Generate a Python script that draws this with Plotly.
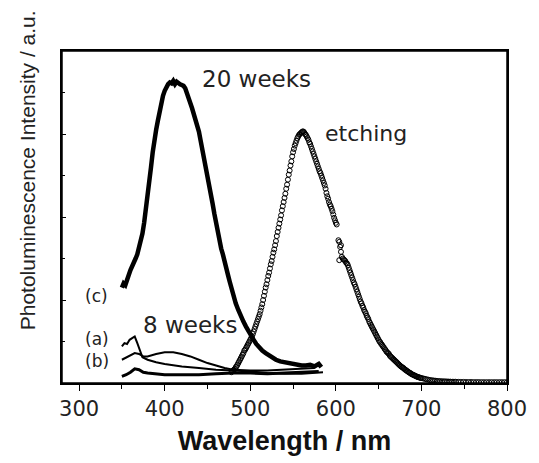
import plotly.graph_objects as go

# ---- data ----
weeks20_x = [350, 352, 354, 356, 358, 360, 362, 364, 366, 368, 370, 372, 374, 376, 378,
             380, 382, 384, 386, 388, 390, 392, 394, 396, 398, 400, 402, 404, 406, 408,
             410, 412, 414, 416, 418, 420, 422, 424, 426, 428, 430, 432, 434, 436, 438,
             440, 442, 444, 446, 448, 450, 452, 454, 456, 458, 460, 462, 464, 466, 468,
             470, 472, 474, 476, 478, 480, 483, 486, 489, 492, 495, 498, 501, 504, 507,
             510, 514, 518, 522, 526, 530, 535, 540, 545, 550, 555, 560, 565, 570, 575,
             580, 583]
weeks20_y = [1.15, 1.20, 1.18, 1.26, 1.30, 1.36, 1.40, 1.45, 1.50, 1.55, 1.62, 1.70, 1.80, 1.93, 2.08,
             2.25, 2.42, 2.60, 2.78, 2.95, 3.05, 3.16, 3.27, 3.38, 3.46, 3.52, 3.57, 3.60, 3.62, 3.61,
             3.64, 3.60, 3.63, 3.61, 3.60, 3.59, 3.58, 3.55, 3.50, 3.44, 3.37, 3.31, 3.25, 3.18, 3.10,
             3.03, 2.92, 2.82, 2.72, 2.60, 2.48, 2.37, 2.28, 2.16, 2.04, 1.92, 1.80, 1.70, 1.62, 1.55,
             1.48, 1.40, 1.30, 1.22, 1.13, 1.06, 0.96, 0.88, 0.80, 0.74, 0.68, 0.62, 0.57, 0.52, 0.47,
             0.43, 0.39, 0.36, 0.33, 0.30, 0.28, 0.26, 0.25, 0.23, 0.22, 0.22, 0.21, 0.21, 0.22, 0.20,
             0.23, 0.19]

a_x = [350, 353, 356, 359, 362, 365, 368, 371, 374, 380, 390, 400, 420, 440, 460, 480,
       500, 520, 540, 560, 585]
a_y = [0.44, 0.48, 0.47, 0.52, 0.54, 0.56, 0.48, 0.38, 0.31, 0.28, 0.25, 0.23, 0.20, 0.18, 0.16, 0.15,
       0.14, 0.12, 0.11, 0.11, 0.13]

b_x = [350, 355, 360, 365, 370, 375, 380, 390, 400, 410, 420, 430, 440, 450, 460, 470,
       480, 500, 520, 540, 560, 575]
b_y = [0.28, 0.31, 0.34, 0.36, 0.35, 0.32, 0.32, 0.35, 0.37, 0.37, 0.35, 0.32, 0.28, 0.24, 0.21, 0.18,
       0.16, 0.15, 0.15, 0.16, 0.17, 0.18]

base_x = [350, 355, 360, 365, 370, 375, 380, 390, 400, 420, 440, 460, 480, 500, 520, 540, 560, 580]
base_y = [0.08, 0.10, 0.13, 0.17, 0.16, 0.13, 0.12, 0.11, 0.10, 0.10, 0.10, 0.11, 0.12, 0.12, 0.11,
          0.12, 0.13, 0.14]

etch_x = [478, 479, 480, 481, 482, 483, 484, 485, 486, 487, 488, 489, 490, 491, 492, 493, 494,
          495, 496, 497, 498, 499, 500, 501, 502, 503, 504, 505, 506, 507, 508, 509, 510, 511,
          512, 513, 514, 515, 516, 517, 518, 519, 520, 521, 522, 523, 524, 525, 526, 527, 528,
          529, 530, 531, 532, 533, 534, 535, 536, 537, 538, 539, 540, 541, 542, 543, 544, 545,
          546, 547, 548, 549, 550, 551, 552, 553, 554, 555, 556, 557, 558, 559, 560, 561, 562,
          563, 564, 565, 566, 567, 568, 569, 570, 571, 572, 573, 574, 575, 576, 577, 578, 579,
          580, 581, 582, 583, 584, 585, 586, 587, 588, 589, 590, 591, 592, 593, 594, 595, 596,
          597, 598, 599, 600, 601, 603, 604, 604, 605, 606, 606, 607, 608, 609, 610, 611, 612,
          613, 614, 615, 616, 617, 618, 619, 620, 621, 622, 623, 624, 625, 626, 627, 628, 629,
          630, 631, 632, 633, 634, 635, 636, 637, 638, 639, 640, 641, 642, 643, 644, 645, 646,
          647, 648, 649, 650, 651, 652, 653, 654, 655, 656, 657, 658, 659, 660, 661, 662, 663,
          664, 665, 666, 667, 668, 669, 670, 671, 672, 673, 674, 675, 676, 677, 678, 679, 680,
          681, 682, 683, 684, 685, 686, 687, 688, 689, 690, 691, 692, 693, 694, 695, 696, 697,
          698, 699, 700, 702, 704, 706, 708, 710, 712, 714, 716, 718, 720, 722, 724, 726, 728,
          730, 732, 734, 736, 738, 740, 743, 746, 749, 752, 755, 758, 761, 764, 767, 770, 773,
          776, 779, 782, 785, 788, 791, 794, 797, 800]
etch_y = [0.13, 0.14, 0.15, 0.16, 0.17, 0.19, 0.20, 0.22, 0.24, 0.26, 0.28, 0.30, 0.32, 0.34,
          0.36, 0.39, 0.40, 0.42, 0.44, 0.46, 0.48, 0.50, 0.52, 0.54, 0.56, 0.59, 0.62, 0.65,
          0.68, 0.71, 0.74, 0.77, 0.80, 0.83, 0.87, 0.91, 0.95, 1.00, 1.05, 1.10, 1.15, 1.19,
          1.24, 1.29, 1.33, 1.38, 1.43, 1.47, 1.52, 1.57, 1.61, 1.66, 1.71, 1.77, 1.82, 1.87,
          1.92, 1.97, 2.02, 2.08, 2.13, 2.18, 2.23, 2.28, 2.34, 2.39, 2.45, 2.51, 2.56, 2.62,
          2.67, 2.73, 2.78, 2.82, 2.86, 2.89, 2.92, 2.95, 2.97, 2.99, 3.00, 3.01, 3.02, 3.03,
          3.03, 3.02, 3.00, 2.99, 2.97, 2.95, 2.93, 2.90, 2.88, 2.85, 2.82, 2.79, 2.76, 2.73,
          2.70, 2.67, 2.64, 2.61, 2.58, 2.55, 2.53, 2.50, 2.47, 2.44, 2.41, 2.38, 2.34, 2.29,
          2.25, 2.22, 2.18, 2.15, 2.13, 2.10, 2.07, 2.03, 1.99, 1.96, 1.93, 1.91, 1.72, 1.70,
          1.48, 1.64, 1.58, 1.66, 1.52, 1.50, 1.49, 1.48, 1.47, 1.45, 1.44, 1.42, 1.39, 1.36,
          1.33, 1.30, 1.27, 1.24, 1.21, 1.19, 1.16, 1.13, 1.10, 1.07, 1.04, 1.01, 0.98, 0.96,
          0.93, 0.91, 0.88, 0.86, 0.84, 0.81, 0.79, 0.77, 0.74, 0.72, 0.70, 0.68, 0.66, 0.64,
          0.62, 0.60, 0.58, 0.56, 0.54, 0.52, 0.50, 0.49, 0.47, 0.46, 0.44, 0.43, 0.41, 0.40,
          0.38, 0.37, 0.36, 0.35, 0.33, 0.32, 0.31, 0.30, 0.29, 0.28, 0.27, 0.26, 0.25, 0.24,
          0.23, 0.22, 0.21, 0.20, 0.195, 0.185, 0.18, 0.17, 0.16, 0.155, 0.145, 0.14, 0.13,
          0.125, 0.12, 0.11, 0.105, 0.10, 0.095, 0.09, 0.085, 0.08, 0.075, 0.07, 0.07, 0.065,
          0.06, 0.06, 0.055, 0.05, 0.045, 0.04, 0.035, 0.033, 0.03, 0.028, 0.025, 0.023, 0.022,
          0.02, 0.02, 0.019, 0.018, 0.017, 0.016, 0.015, 0.015, 0.015, 0.014, 0.013, 0.013,
          0.012, 0.012, 0.012, 0.011, 0.011, 0.011, 0.01, 0.01, 0.01, 0.01, 0.01, 0.01, 0.01,
          0.01, 0.01, 0.01, 0.01, 0.01]

x_ticks = [300, 400, 500, 600, 700, 800]

FONT = "DejaVu Sans, sans-serif"
FONT_ARIAL = "Liberation Sans, Arial, sans-serif"
TXT = "#222222"

fig = go.Figure()
fig.add_trace(go.Scatter(x=base_x, y=base_y, mode="lines",
                         line=dict(color="black", width=3), showlegend=False))
fig.add_trace(go.Scatter(x=b_x, y=b_y, mode="lines",
                         line=dict(color="black", width=2), showlegend=False))
fig.add_trace(go.Scatter(x=a_x, y=a_y, mode="lines",
                         line=dict(color="black", width=2), showlegend=False))
fig.add_trace(go.Scatter(x=weeks20_x, y=weeks20_y, mode="lines",
                         line=dict(color="black", width=4.5), showlegend=False))
fig.add_trace(go.Scatter(x=etch_x, y=etch_y, mode="markers",
                         marker=dict(symbol="circle-open", size=5, color="black",
                                     line=dict(width=1)),
                         showlegend=False))

labels = [
    ("20 weeks", 507, 3.66, 23),
    ("etching", 635, 3.01, 22),
    ("8 weeks", 430, 0.70, 23),
    ("(c)", 320.5, 1.05, 17),
    ("(a)", 320.5, 0.53, 17),
    ("(b)", 320.5, 0.26, 17),
]
for text, lx, ly, size in labels:
    fig.add_annotation(x=lx, y=ly, xref="x", yref="y", text=text, showarrow=False,
                       xanchor="center", yanchor="middle",
                       font=dict(family=FONT, size=size, color=TXT))

fig.add_annotation(x=-0.077, y=0.64, xref="paper", yref="paper",
                   text="Photoluminescence Intensity / a.u.", textangle=-90,
                   showarrow=False, xanchor="center", yanchor="middle",
                   font=dict(family=FONT_ARIAL, size=21, color=TXT))

fig.add_shape(type="rect", xref="paper", yref="paper", x0=0, y0=0, x1=1, y1=1,
              line=dict(color="black", width=1.5), layer="above")

fig.update_layout(
    width=539, height=463,
    margin=dict(l=62, r=22, t=51, b=73),
    paper_bgcolor="white", plot_bgcolor="white",
    font=dict(family=FONT, color=TXT),
    xaxis=dict(range=[280, 800], tickvals=x_ticks, ticktext=[str(v) for v in x_ticks],
               ticks="outside", ticklen=6, tickwidth=1, tickcolor="black",
               minor=dict(dtick=50, tick0=300, ticks="outside", ticklen=4, tickcolor="black"),
               showline=True, linecolor="black", linewidth=1.5, mirror=True,
               showgrid=False, zeroline=False,
               tickfont=dict(family=FONT, size=21, color=TXT),
               title=dict(text="<b>Wavelength / nm</b>", standoff=11,
                          font=dict(family=FONT_ARIAL, size=27, color="#111111"))),
    yaxis=dict(range=[0, 4], dtick=1, tick0=0, showticklabels=False,
               ticks="inside", ticklen=4, tickcolor="black",
               minor=dict(dtick=0.5, tick0=0, ticks="inside", ticklen=3, tickcolor="black"),
               showline=True, linecolor="black", linewidth=1.5, mirror=True,
               showgrid=False, zeroline=False),
)

fig.write_html("out.html")
